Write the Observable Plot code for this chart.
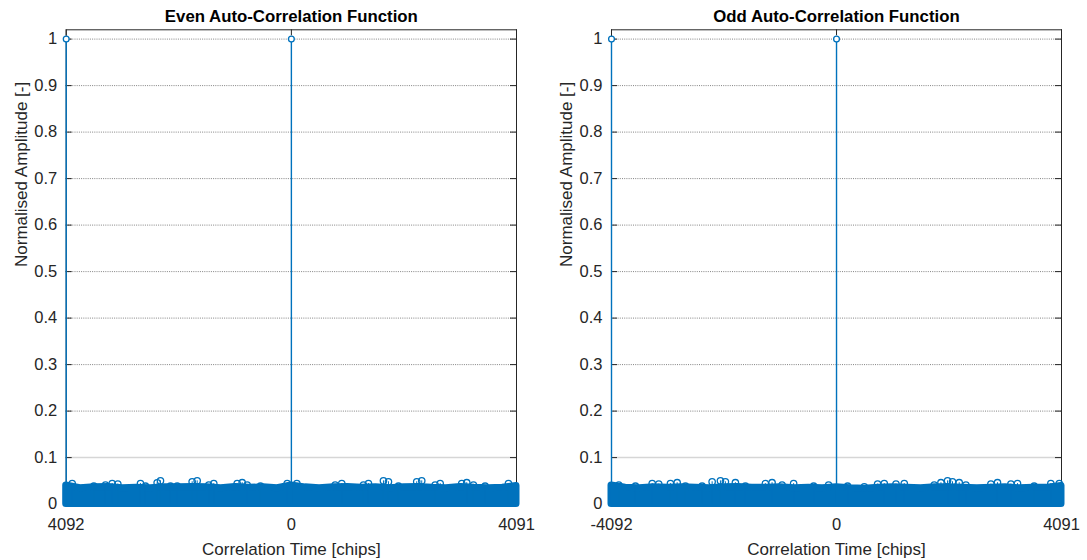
<!DOCTYPE html>
<html>
<head>
<meta charset="utf-8">
<script src="https://cdn.jsdelivr.net/npm/d3@7"></script>
<script src="https://cdn.jsdelivr.net/npm/@observablehq/plot@0.6"></script>
<style>
  html, body { margin: 0; padding: 0; background: #fff; }
  #fig { position: relative; width: 1087px; height: 560px; overflow: hidden; background: #fff; }
  #fig > div, #fig > svg { position: absolute; top: 0; }
</style>
</head>
<body>
<div id="fig"></div>
<script>
// ---- Axis definitions -------------------------------------------------------
const yTicks = [0, 0.1, 0.2, 0.3, 0.4, 0.5, 0.6, 0.7, 0.8, 0.9, 1];
const yTickLabels = ["0", "0.1", "0.2", "0.3", "0.4", "0.5", "0.6", "0.7", "0.8", "0.9", "1"];
const xTicks = [-4092, 0, 4091];
const evenXTickLabels = ["4092", "0", "4091"];
const oddXTickLabels = ["-4092", "0", "4091"];
const titles = ["Even Auto-Correlation Function", "Odd Auto-Correlation Function"];
const xLabel = "Correlation Time [chips]";
const yLabel = "Normalised Amplitude [-]";

// ---- Main correlation peaks (lag, normalised amplitude) ---------------------
const mainPeakLags = [-4092, 0];
const mainPeakValues = [1, 1];

// ---- Side-lobe floor: upper envelope of the dense stem cloud ----------------
const envLags = [-4092, -3836, -3580, -3324, -3068, -2812, -2556, -2300, -2044, -1788,
  -1532, -1276, -1020, -764, -508, -252, 0, 256, 512, 768, 1024, 1280, 1536, 1792,
  2048, 2304, 2560, 2816, 3072, 3328, 3584, 3840, 4091];
const evenEnv = [0.040, 0.034, 0.036, 0.037, 0.034, 0.035, 0.034, 0.036, 0.036, 0.037,
  0.036, 0.034, 0.037, 0.035, 0.036, 0.034, 0.040, 0.036, 0.034, 0.036, 0.037, 0.035,
  0.036, 0.034, 0.036, 0.037, 0.035, 0.034, 0.037, 0.035, 0.034, 0.035, 0.039];
const oddEnv = [0.040, 0.035, 0.034, 0.036, 0.035, 0.036, 0.035, 0.034, 0.036, 0.037,
  0.035, 0.035, 0.036, 0.034, 0.035, 0.034, 0.036, 0.034, 0.033, 0.035, 0.036, 0.035,
  0.034, 0.036, 0.036, 0.035, 0.034, 0.035, 0.036, 0.034, 0.035, 0.035, 0.039];

// ---- Largest side-lobes standing out of the floor ---------------------------
const evenLobeLags = [-3983, -3590, -3378, -3256, -3154, -2742, -2651, -2439, -2379, -2197,
  -2075, -1803, -1712, -1501, -1410, -985, -894, -803, -562, -76,
  100, 796, 916, 1310, 1401, 1673, 1764, 1946, 2278, 2369, 2613, 2704, 3096, 3187,
  3309, 3521, 3945];
const evenLobeValues = [0.044, 0.0385, 0.041, 0.044, 0.043, 0.044, 0.0385, 0.0457, 0.050, 0.0385,
  0.0385, 0.048, 0.050, 0.041, 0.044, 0.044, 0.046, 0.041, 0.0385, 0.044,
  0.044, 0.041, 0.044, 0.041, 0.044, 0.050, 0.048, 0.0385, 0.048, 0.050, 0.041, 0.044, 0.044, 0.046,
  0.041, 0.0385, 0.044];
const oddLobeLags = [-3959, -3656, -3352, -3233, -3020, -2898, -2747, -2444, -2262, -2111,
  -2021, -1839, -1657, -1294, -1172, -990, -780, -416, -144,
  202, 505, 747, 868, 1081, 1232, 1777, 1899, 2019, 2109, 2231, 2353, 2807, 2927,
  3171, 3291, 3594, 3897, 4050];
const oddLobeValues = [0.041, 0.0385, 0.044, 0.043, 0.044, 0.046, 0.0385, 0.0385, 0.048, 0.050,
  0.048, 0.046, 0.0385, 0.044, 0.046, 0.041, 0.044, 0.0385, 0.041,
  0.0385, 0.037, 0.043, 0.044, 0.043, 0.044, 0.041, 0.046, 0.050, 0.048, 0.046, 0.041, 0.043, 0.046,
  0.043, 0.044, 0.0385, 0.044, 0.044];

// ---- Styling ----------------------------------------------------------------
const BLUE = "#0072BD";
const INK = "#262626";
const FONT = "'Liberation Sans', Arial, Helvetica, sans-serif";

const zip = (xs, ys) => xs.map((x, i) => ({x, y: ys[i]}));

function panel({left, width, marginLeft, marginRight, title, xTickLabels, env, lobeLags, lobeValues}) {
  const height = 560;
  const marginTop = 29.3;
  const marginBottom = 56.4;
  const plotW = width - marginLeft - marginRight;
  const plotH = height - marginTop - marginBottom;
  const tick = 6;

  const envelope = zip(envLags, env);
  const lobes = zip(lobeLags, lobeValues);
  const peaks = zip(mainPeakLags, mainPeakValues);
  const yT = yTicks.map((v, i) => ({v, label: yTickLabels[i]}));
  const xT = xTicks.map((v, i) => ({v, label: xTickLabels[i]}));

  const svg = Plot.plot({
    width, height, marginLeft, marginRight, marginTop, marginBottom,
    x: {domain: [-4092, 4091], axis: null},
    y: {domain: [0, 1.02], axis: null},
    style: {fontFamily: FONT, background: "transparent", overflow: "visible"},
    marks: [
      // dotted horizontal grid
      Plot.ruleY(yTicks.filter(v => v >= 0.2), {stroke: "#5a5a5a", strokeDasharray: "1,1.2", strokeWidth: 1, strokeOpacity: 0.75}),
      Plot.ruleY([0.1], {stroke: "#d6d6d6", strokeWidth: 1.5}),
      // axes box
      Plot.frame({stroke: INK, strokeWidth: 1}),
      // inward ticks on all four sides
      Plot.tickY(yTicks, {y: d => d, stroke: INK, insetRight: plotW - tick}),
      Plot.tickY(yTicks, {y: d => d, stroke: INK, insetLeft: plotW - tick}),
      Plot.tickX(xTicks, {x: d => d, stroke: INK, insetTop: plotH - tick}),
      Plot.tickX(xTicks, {x: d => d, stroke: INK, insetBottom: plotH - tick}),
      // dense side-lobe floor
      Plot.areaY(envelope, {x: "x", y: "y", fill: BLUE, stroke: BLUE, strokeWidth: 7, strokeLinejoin: "round"}),
      // prominent side-lobes
      Plot.ruleX(lobes, {x: "x", y1: 0, y2: "y", stroke: BLUE, strokeWidth: 1}),
      Plot.dot(lobes, {x: "x", y: "y", r: 3.2, stroke: BLUE, strokeWidth: 1.3, fill: "none"}),
      // main correlation peaks
      Plot.ruleX(peaks, {x: "x", y1: 0, y2: "y", stroke: BLUE, strokeWidth: 1.4}),
      Plot.dot(peaks, {x: "x", y: "y", r: 2.9, stroke: BLUE, strokeWidth: 1.3, fill: "white"}),
      // tick labels
      Plot.text(yT, {y: "v", text: "label", frameAnchor: "left", textAnchor: "end", dx: -9, fontSize: 16.5, fill: INK}),
      Plot.text(xT, {x: "v", text: "label", frameAnchor: "bottom", lineAnchor: "top", dy: 14.5, fontSize: 16.5, fill: INK}),
      // axis labels and title
      Plot.text([yLabel], {text: d => d, frameAnchor: "left", rotate: -90, dx: -(marginLeft - 21), fontSize: 17, fill: INK}),
      Plot.text([xLabel], {text: d => d, frameAnchor: "bottom", lineAnchor: "middle", dy: 45.5, fontSize: 17, fill: INK}),
      Plot.text([title], {text: d => d, frameAnchor: "top", lineAnchor: "middle", dy: -12.8, fontSize: 16.8, fontWeight: "bold", fill: "#000"})
    ]
  });
  svg.style.left = left + "px";
  return svg;
}

const fig = document.getElementById("fig");
fig.appendChild(panel({
  left: 0, width: 543, marginLeft: 65.7, marginRight: 27,
  title: titles[0], xTickLabels: evenXTickLabels,
  env: evenEnv, lobeLags: evenLobeLags, lobeValues: evenLobeValues
}));
fig.appendChild(panel({
  left: 545, width: 542, marginLeft: 66, marginRight: 26,
  title: titles[1], xTickLabels: oddXTickLabels,
  env: oddEnv, lobeLags: oddLobeLags, lobeValues: oddLobeValues
}));
</script>
</body>
</html>
